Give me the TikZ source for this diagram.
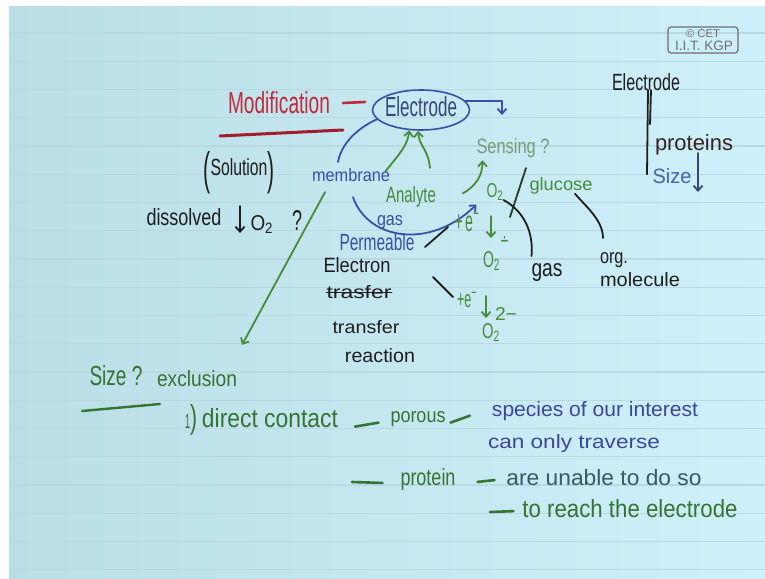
\documentclass[tikz,border=0pt]{standalone}
\usepackage{fontspec}
\setmainfont{Liberation Sans}
\newfontfamily\djv{DejaVu Sans}
\usepackage{graphicx}
\usetikzlibrary{arrows.meta,shapes.geometric}
\definecolor{pageL}{RGB}{186,222,230}
\definecolor{pageR}{RGB}{206,240,250}
\definecolor{rulec}{RGB}{186,216,226}
\definecolor{inkred}{RGB}{196,40,60}
\definecolor{inkredd}{RGB}{160,30,45}
\definecolor{inkblue}{RGB}{56,80,168}
\definecolor{inkslate}{RGB}{55,70,120}
\definecolor{inkgreen}{RGB}{70,140,60}
\definecolor{inkgreenD}{RGB}{55,115,50}
\definecolor{inksens}{RGB}{120,155,120}
\definecolor{inkblack}{RGB}{30,30,30}
\definecolor{inkslash}{RGB}{40,60,40}
\definecolor{inkviolet}{RGB}{60,72,150}
\definecolor{inkteal}{RGB}{55,90,100}
\definecolor{inkbrown}{RGB}{55,35,35}
\definecolor{inksizeb}{RGB}{70,100,170}
\definecolor{cetgray}{RGB}{110,110,115}
\newcommand\fw[2]{\resizebox{#1pt}{!}{#2}}
\newcommand\fwh[3]{\resizebox{#1pt}{#2pt}{#3}}
\begin{document}
\begin{tikzpicture}[x=1pt,y=-1pt,
  txt/.style={inner sep=0pt,outer sep=0pt},
  bt/.style={inner sep=0pt,outer sep=0pt,anchor=base},
  pen/.style={line width=1.8pt,line cap=round,line join=round},
  arr/.style={pen,-{Straight Barb[length=5pt,width=9pt]}},
  dashpen/.style={line width=2.6pt,line cap=round},
]
\useasboundingbox (0,0) rectangle (765,578);
\fill[white] (0,0) rectangle (765,578);
\shade[left color=pageL,right color=pageR] (9,7) rectangle (765,578);
\foreach \k in {0,...,19} \draw[rulec,line width=1.1pt] (9,33+28.25*\k) -- (765,33+28.25*\k);

% CET mark
\node[draw=cetgray,rounded corners=3pt,line width=1.2pt,minimum width=70pt,minimum height=26pt,inner sep=0pt] (cet) at (703,40) {};
\node[txt,text=cetgray] (cet1) at (703,34) {\fw{34}{© CET}};
\node[txt,text=cetgray] (cet2) at (704,46) {\fw{58}{I.I.T. KGP}};

% Modification - Electrode
\node[bt,text=inkred] (mod) at (279,113) {\fwh{102}{22}{Modification}};
\draw[pen,inkredd,line width=3pt] (220,136) -- (343,130);
\coordinate (mdA) at (343,103);
\coordinate (mdB) at (365,102);
\draw[dashpen,inkred] (mdA) -- (mdB);
\node[ellipse,draw=inkblue,line width=1.6pt,minimum width=97pt,minimum height=40pt,inner sep=0pt] (electrode) at (421,110) {};
\node[bt,text=inkslate] (electrodeTxt) at (421,116) {\fwh{72}{20}{Electrode}};

\node[bt,text=inksens] (sensing) at (513,153) {\fwh{73}{15}{Sensing ?}};
\coordinate (sensArr) at (502,115);
\draw[arr,inkblue] (electrode.12) -| (sensArr);

\node[bt,text=inkblue] (membrane) at (351,181) {\fwh{78}{13}{membrane}};
\draw[pen,inkblue] ([xshift=-13pt,yshift=6pt]membrane.north) .. controls +(4,-22) and +(-14,6) .. (electrode.192);

\node[bt,text=inkgreen] (analyte) at (411,202) {\fwh{50}{16}{Analyte}};
\draw[arr,inkgreen] ([xshift=-5pt,yshift=-4pt]membrane.north east) .. controls +(14,-18) and +(-2,16) .. (electrode.240);
\draw[arr,inkgreen] ([xshift=19pt,yshift=18pt]analyte.north) .. controls +(-2,-20) and +(1,16) .. (electrode.262);

\node[bt,text=inkgreen] (o2a) at (495,197) {\fwh{17}{14}{O\textsubscript{2}}};
\draw[arr,inkgreen] ([xshift=27pt,yshift=3pt]analyte.east) .. controls +(14,-8) and +(0,14) .. ([xshift=6pt,yshift=-3pt]sensing.south west);

\node[bt,text=inkblue] (gas) at (390,225) {\fwh{26}{10}{gas}};
\node[bt,text=inkblue] (perm) at (377,250) {\fwh{75}{17}{Permeable}};
\draw[arr,inkblue] ([xshift=2pt,yshift=-16pt]membrane.south) .. controls (368,240) and (430,250) .. ([xshift=-10pt,yshift=-13pt]o2a.west);

% slash, glucose, gas, org. molecule
\coordinate (slA) at (526,168);
\coordinate (slB) at (510,217);
\draw[pen,inkslash] (slA) -- (slB);
\node[bt,text=inkgreen] (glucose) at (561,190) {\fwh{63}{13}{glucose}};
\node[bt,text=inkblack] (gasB) at (547,276) {\fwh{31}{13}{gas}};
\draw[pen,inkblack] (o2a.south east) .. controls +(22,12) and +(2,-22) .. ([yshift=7pt]gasB.north west);
\node[bt,text=inkblack] (org) at (614,263) {\fwh{28}{11}{org.}};
\node[bt,text=inkblack] (molecule) at (640,286) {\fwh{80}{14}{molecule}};
\draw[pen,inkblack] ([xshift=14pt]glucose.south) .. controls +(10,12) and +(0,-18) .. ([xshift=-11pt,yshift=14pt]org.north);

% reduction steps
\node[bt,text=inkgreen] (e1) at (467,231) {\fwh{25}{18}{+\,e\textsuperscript{−}}};
\coordinate (a1s) at (491,216);
\coordinate (a1e) at (491,238);
\draw[arr,inkgreen] (a1s) -- (a1e);
\node[bt,text=inkgreen] (o2b) at (496,267) {\fwh{17}{16}{O\textsubscript{2}}\raisebox{20pt}{\fwh{9}{11}{\djv ∸}}};
\coordinate (l1a) at (425,247);
\coordinate (l1b) at (448,227);
\draw[pen,inkblack] (l1a) -- (l1b);

\node[bt,text=inkblack] (electron) at (357,272) {\fwh{67}{15}{Electron}};
\node[bt,text=inkblack] (trasfer) at (359,298) {\fwh{65}{13}{trasfer}};
\draw[pen,inkblack] ([yshift=-1pt]trasfer.west) -- ([yshift=-1pt]trasfer.east);
\node[bt,text=inkblack] (transfer) at (366,333) {\fwh{67}{13}{transfer}};
\node[bt,text=inkblack] (reaction) at (380,362) {\fwh{70}{14}{reaction}};

\coordinate (l2a) at (433,277);
\coordinate (l2b) at (453,297);
\draw[pen,inkblack] (l2a) -- (l2b);
\node[bt,text=inkgreen] (e2) at (467,307) {\fwh{20}{15}{+e\textsuperscript{−}}};
\coordinate (a2s) at (486,296);
\coordinate (a2e) at (486,318);
\draw[arr,inkgreen] (a2s) -- (a2e);
\node[bt,text=inkgreen] (o2c) at (491,338) {\fwh{18}{15}{O\textsubscript{2}}};
\node[bt,text=inkgreen] (chg) at (506,320) {\fwh{22}{13}{2−}};

% left: solution, dissolved O2
\node[bt,text=inkblack] (solution) at (239,184) {\fwh{7}{33}{(}\raisebox{9pt}{\fwh{57}{17}{Solution}}\fwh{7}{33}{)}};
\node[bt,text=inkblack] (dissolved) at (184,225) {\fwh{75}{17}{dissolved}};
\coordinate (a3s) at (240,206);
\coordinate (a3e) at (240,233);
\draw[arr,inkblack] (a3s) -- (a3e);
\node[bt,text=inkblack] (o2d) at (262,230) {\fwh{23}{15}{O\textsubscript{2}}};
\node[bt,text=inkblack] (q1) at (297,230) {\fwh{10}{20}{?}};

% size exclusion
\coordinate (sizeTip) at (242,345);
\draw[arr,inkgreen] ([xshift=13pt,yshift=-11pt]membrane.south west) -- (sizeTip);
\node[bt,text=inkgreenD] (size) at (116,385) {\fwh{53}{20}{Size ?}};
\draw[pen,inkgreenD,line width=2.4pt] (82,411) -- (160,404);
\node[bt,text=inkgreenD] (exclusion) at (197,386) {\fwh{80}{16}{exclusion}};

\node[bt,text=inkgreenD] (one) at (191,428) {\fwh{5}{14}{1}\fwh{7}{24}{)}};
\node[bt,text=inkgreenD] (direct) at (270,427) {\fwh{136}{19}{direct contact}};
\node[bt,text=inkgreenD] (porous) at (418,422) {\fwh{55}{11}{porous}};
\draw[dashpen,inkgreenD] ([xshift=17pt,yshift=-9pt]direct.east) -- ([xshift=-12pt,yshift=-4pt]porous.west);
\node[bt,text=inkviolet] (species) at (595,416) {\fwh{206}{15}{species of our interest}};
\draw[dashpen,inkgreenD] ([xshift=5pt,yshift=-4pt]porous.east) -- ([xshift=-22pt,yshift=-5pt]species.west);
\node[bt,text=inkviolet] (traverse) at (574,448) {\fwh{172}{14}{can only traverse}};

\node[bt,text=inkgreenD] (protein) at (428,485) {\fwh{55}{17}{protein}};
\coordinate (d3) at (352,482);
\draw[dashpen,inkgreenD] (d3) -- ([xshift=-18pt,yshift=-4pt]protein.west);
\node[bt,text=inkteal] (unable) at (604,485) {\fwh{195}{16}{are unable to do so}};
\draw[dashpen,inkgreenD] ([xshift=22pt,yshift=-3pt]protein.east) -- ([xshift=-12pt,yshift=-3pt]unable.west);
\node[bt,text=inkgreenD] (reach) at (630,517) {\fwh{215}{18}{to reach the electrode}};
\coordinate (d5) at (490,512);
\draw[dashpen,inkgreenD] (d5) -- ([xshift=-9pt,yshift=-3pt]reach.west);

% right column
\node[bt,text=inkblack] (rel) at (646,90) {\fwh{68}{17}{Electrode}};
\draw[pen,inkblack] ([xshift=2pt]rel.south) -- ([xshift=1pt,yshift=-84pt]rel.south);
\draw[pen,inkblack] ([xshift=5pt]rel.south) -- ([xshift=4pt,yshift=-34pt]rel.south);
\node[bt,text=inkbrown] (prot) at (694,150) {\fwh{78}{16}{proteins}};
\node[bt,text=inksizeb] (size2) at (672,183) {\fwh{39}{15}{Size}};
\coordinate (a4s) at (698,153);
\coordinate (a4e) at (698,192);
\draw[arr,inkslate] (a4s) -- (a4e);
\end{tikzpicture}
\end{document}
